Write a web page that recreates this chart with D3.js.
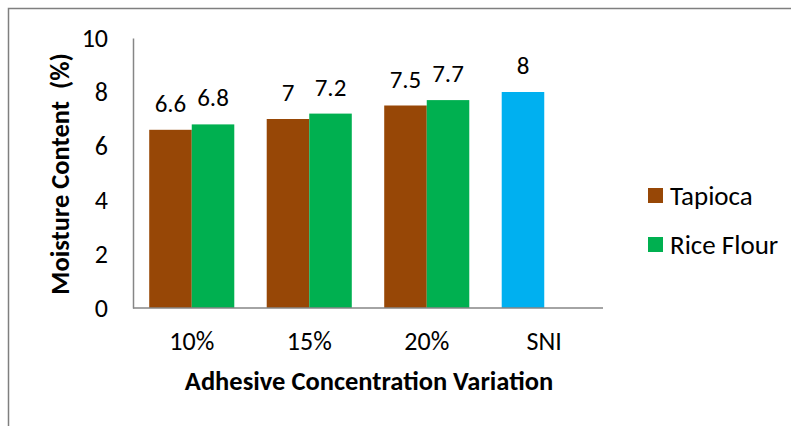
<!DOCTYPE html>
<html><head><meta charset="utf-8">
<script src="https://cdn.jsdelivr.net/npm/d3@7"></script>
<style>body{margin:0;background:#fff}svg{display:block}text{font-family:Carlito,Lato,"Open Sans",sans-serif;fill:#000}</style>
</head><body><svg id="c" width="791" height="426"></svg>
<script>
const categories = ["10%", "15%", "20%", "SNI"];
const seriesNames = ["Tapioca", "Rice Flour", "SNI"];
const tapioca = [6.6, 7, 7.5, null];
const riceFlour = [6.8, 7.2, 7.7, null];
const sni = [null, null, null, 8];
const yTicks = [0, 2, 4, 6, 8, 10];
const colors = ["#974706", "#00B050", "#00B0F0"];

const svg = d3.select("#c");
// outer frame
svg.append("path").attr("d", "M8.5,430 L8.5,8.5 L800,8.5").attr("fill","none").attr("stroke","#7f7f7f").attr("stroke-width",1.5);

const x0 = 133, x1 = 603, yB = 308, yT = 38;
const x = d3.scaleBand().domain(categories).range([x0, x1]).paddingInner(0.276).paddingOuter(0.138);
const slot = d3.scaleBand().domain([0,1]).range([0, x.bandwidth()]);
const y = d3.scaleLinear().domain([0, 10]).range([yB, yT]);

const bars = [];
categories.forEach((c, i) => {
  if (tapioca[i] != null) bars.push({c, s:0, slot:0, v:tapioca[i]});
  if (riceFlour[i] != null) bars.push({c, s:1, slot:1, v:riceFlour[i]});
  if (sni[i] != null) bars.push({c, s:2, slot:0, v:sni[i]});
});

svg.append("g").selectAll("rect").data(bars).join("rect")
  .attr("x", d => x(d.c) + slot(d.slot))
  .attr("y", d => y(d.v))
  .attr("width", slot.bandwidth())
  .attr("height", d => y(0) - y(d.v))
  .attr("fill", d => colors[d.s]);

svg.append("g").selectAll("text").data(bars).join("text")
  .attr("x", d => x(d.c) + slot(d.slot) + slot.bandwidth()/2)
  .attr("y", d => y(d.v) - 18)
  .attr("text-anchor","middle").attr("font-size", 25)
  .text(d => d.v);

// y axis
const yAxis = svg.append("g").attr("transform", `translate(${x0},0)`)
  .call(d3.axisLeft(y).tickValues(yTicks).tickSize(0).tickPadding(25));
yAxis.select(".domain").attr("stroke","#868686").attr("stroke-width",1.5);
yAxis.selectAll("text").attr("font-size", 26).style("font-family","Carlito,Lato,sans-serif").attr("fill","#000");

// x axis
const xAxis = svg.append("g").attr("transform", `translate(0,${yB})`)
  .call(d3.axisBottom(x).tickSize(0).tickPadding(24));
xAxis.select(".domain").attr("stroke","#868686").attr("stroke-width",1.5).attr("d", `M${x0},0H${x1}`);
xAxis.selectAll("text").attr("font-size", 26).style("font-family","Carlito,Lato,sans-serif").attr("fill","#000");

// axis titles
svg.append("text").attr("x", 369).attr("y", 390).attr("text-anchor","middle")
  .attr("font-size", 26.5).attr("font-weight","bold").text("Adhesive Concentration Variation");
svg.append("text").attr("transform","translate(69,174) rotate(-90)").attr("text-anchor","middle")
  .attr("font-size", 26.5).attr("font-weight","bold").attr("xml:space","preserve").text("Moisture Content  (%)");

// legend
const leg = svg.append("g").attr("transform","translate(648,188)");
[0,1].forEach(i => {
  const g = leg.append("g").attr("transform", `translate(0,${i*49})`);
  g.append("rect").attr("width",15).attr("height",15).attr("fill",colors[i]);
  g.append("text").attr("x",22).attr("y",7.5).attr("dy","0.35em").attr("font-size",27).text(seriesNames[i]);
});
</script></body></html>
